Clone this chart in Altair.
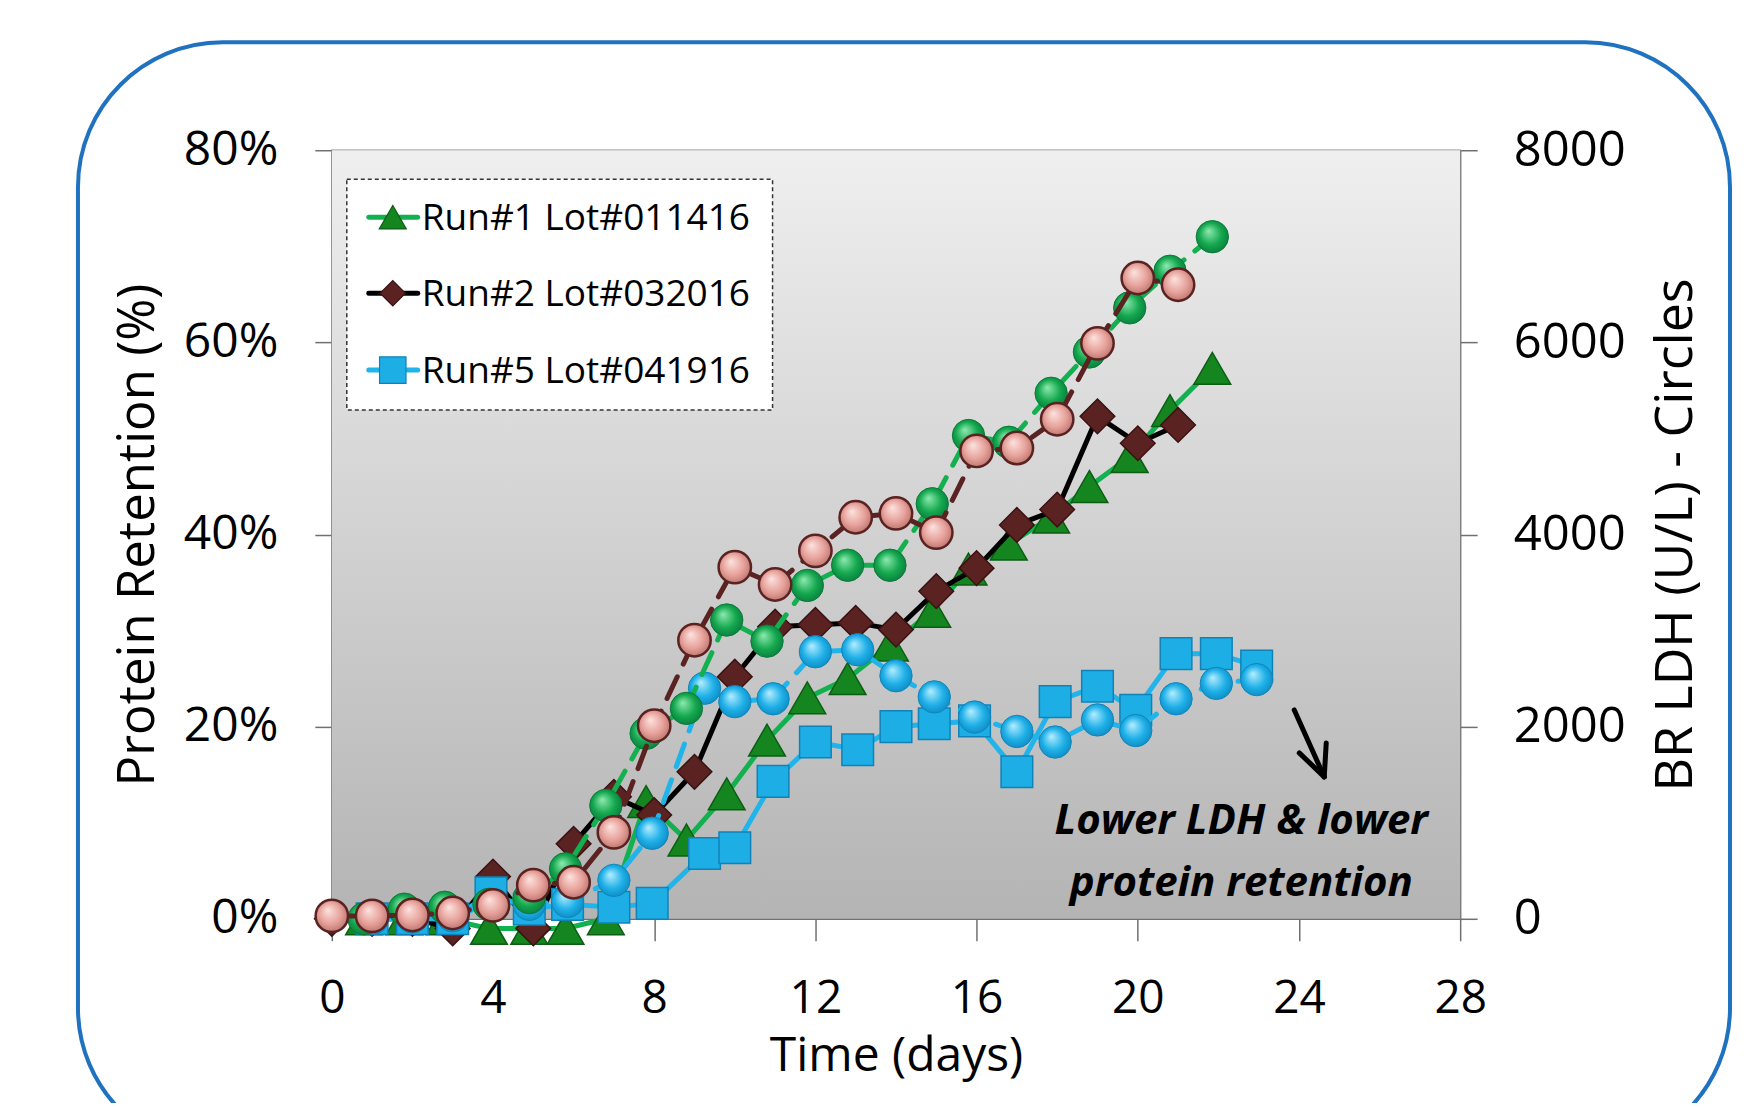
import altair as alt
import pandas as pd

FONT = "Open Sans"
W, H = 1129, 769

# ---------------- data ----------------
X_TICKS = [0, 4, 8, 12, 16, 20, 24, 28]
Y_LEFT_TICKS = [0, 20, 40, 60, 80]
Y_RIGHT_TICKS = [0, 2000, 4000, 6000, 8000]

R1_DAYS = [0.8, 1.8, 2.8, 3.9, 4.9, 5.8, 6.8, 7.8, 8.8, 9.8, 10.8, 11.8,
           12.8, 13.85, 14.9, 15.8, 16.8, 17.85, 18.8, 19.8, 20.8, 21.85]
R1_PROT = [0, 0, 0, -1, -1, -1, 0, 12.2, 8.2, 13, 18.6, 23, 25, 28.5, 32,
           36.4, 39, 41.8, 45, 48.1, 52.9, 57.3]
R1_LDH = [0, 100, 120, 150, 220, 520, 1180, 1930, 2190, 3110, 2890, 3470,
          3680, 3680, 4320, 5030, 4960, 5470, 5900, 6360, 6740, 7100]

R2_DAYS = [0, 1, 2, 3, 4, 5, 6, 7, 8, 9, 10, 11, 12, 13, 14, 15, 16, 17,
           18, 19, 20, 21]
R2_PROT = [0, 0, 0, -1, 4.4, -1, 7.8, 12.7, 10.8, 15.3, 25.2, 30.4, 30.6,
           30.8, 30.1, 34.1, 36.5, 41, 42.6, 52.3, 49.5, 51.4]
R2_LDH = [30, 30, 40, 60, 140, 350, 380, 900, 2010, 2900, 3660, 3480, 3830,
          4180, 4220, 4020, 4870, 4900, 5200, 5990, 6670, 6600]

R5_DAYS = [1, 2, 3, 3.95, 4.9, 5.85, 7, 7.95, 9.25, 10, 10.95, 12, 13.05,
           14, 14.95, 15.95, 17, 17.95, 19, 19.95, 20.95, 21.95, 22.95]
R5_PROT = [0, 0, 0, 2.7, 1, 1.5, 1.2, 1.6, 6.8, 7.4, 14.3, 18.4, 17.6, 20,
           20.3, 20.6, 15.3, 22.6, 24.2, 21.7, 27.6, 27.6, 26.3]
R5_LDH = [0, 20, 30, 150, 150, 180, 400, 890, 2400, 2260, 2290, 2780, 2800,
          2530, 2310, 2100, 1950, 1840, 2070, 1960, 2290, 2450, 2490]

LEGEND_LABELS = ["Run#1 Lot#011416", "Run#2 Lot#032016", "Run#5 Lot#041916"]
ANNOT_LINES = ["Lower LDH & lower", "protein retention"]

# ---------------- styles ----------------
GREEN_LINE = "#12B04E"
GREEN_TRI = "#15861F"
BROWN = "#5B2222"
CYAN_LINE = "#20B4EA"
CYAN_FILL = "#1DAEE6"
CYAN_EDGE = "#1182B8"
DASH = [24, 14]


def sphere(light, base, dark):
    return alt.RadialGradient(
        gradient="radial", x1=0.38, y1=0.32, r1=0.0, x2=0.5, y2=0.5, r2=0.62,
        stops=[alt.GradientStop(offset=0, color=light),
               alt.GradientStop(offset=0.55, color=base),
               alt.GradientStop(offset=1, color=dark)])


PINK_SPH = sphere("#FDE3DF", "#E6A099", "#A8645E")
GREEN_SPH = sphere("#8FEAB0", "#14A84E", "#08703A")
CYAN_SPH = sphere("#B5EEFF", "#1FB0E8", "#0A7FB6")

x_enc = alt.X(
    "day:Q",
    scale=alt.Scale(domain=[0, 28], nice=False),
    axis=alt.Axis(values=X_TICKS, title="Time (days)", labelFontSize=46,
                  tickSize=22, labelPadding=36, labelFlush=False,
                  titleFontSize=48, titleX=W / 2, titleY=138,
                  titleBaseline="middle", titleAlign="center"),
)

y_left = alt.Y(
    "val:Q",
    scale=alt.Scale(domain=[0, 80], nice=False),
    axis=alt.Axis(values=Y_LEFT_TICKS, labelExpr="datum.value + '%'",
                  title="Protein Retention (%)", labelFontSize=48,
                  tickSize=17, labelPadding=37, titleFontSize=51,
                  titleX=-193, titleY=H / 2, titleBaseline="middle",
                  titleAlign="center", titleAngle=270),
)

y_right = alt.Y(
    "val:Q",
    scale=alt.Scale(domain=[0, 8000], nice=False),
    axis=alt.Axis(orient="right", values=Y_RIGHT_TICKS, format="d",
                  title="BR LDH (U/L) - Circles", labelFontSize=49,
                  tickSize=17, labelPadding=36, titleFontSize=52,
                  titleX=215, titleY=H / 2, titleBaseline="middle",
                  titleAlign="center", titleAngle=270),
)


def series(days, vals, y, line_color, dashed, shape, fill, stroke, size,
           stroke_w=1.5):
    df = pd.DataFrame({"day": days, "val": vals})
    base = alt.Chart(df).encode(x=x_enc, y=y)
    line_kw = dict(color=line_color, strokeWidth=5)
    if dashed:
        line_kw["strokeDash"] = DASH
        line_kw["strokeCap"] = "round"
    line = base.mark_line(**line_kw)
    pts = base.mark_point(shape=shape, filled=True, fill=fill, stroke=stroke,
                          strokeWidth=stroke_w, size=size, opacity=1)
    return [line, pts]


bg = alt.Chart(pd.DataFrame({"a": [0]})).mark_rect(
    color=alt.LinearGradient(
        gradient="linear",
        stops=[alt.GradientStop(offset=0, color="#EFEFEF"),
               alt.GradientStop(offset=1, color="#B4B4B4")],
        x1=0, x2=0, y1=0, y2=1,
    )
).encode(x=alt.value(0), x2=alt.value(W), y=alt.value(0), y2=alt.value(H))

left = alt.layer(
    bg,
    *series(R1_DAYS, R1_PROT, y_left, GREEN_LINE, False, "triangle-up",
            GREEN_TRI, "#0B5E14", 1350),
    *series(R2_DAYS, R2_PROT, y_left, "black", False, "diamond",
            BROWN, "#3A1212", 1200),
    *series(R5_DAYS, R5_PROT, y_left, CYAN_LINE, False, "square",
            CYAN_FILL, CYAN_EDGE, 1000),
)

right = alt.layer(
    *series(R5_DAYS, R5_LDH, y_right, CYAN_LINE, True, "circle",
            CYAN_SPH, "#0E86BC", 1050, 1),
    *series(R1_DAYS, R1_LDH, y_right, GREEN_LINE, True, "circle",
            GREEN_SPH, "#0A7A36", 1050, 1),
    *series(R2_DAYS, R2_LDH, y_right, BROWN, True, "circle",
            PINK_SPH, BROWN, 1050, 2.5),
)

one = pd.DataFrame({"a": [0]})

# legend box
legend_layers = [
    alt.Chart(one).mark_rect(fill="white", stroke="#333333", strokeWidth=1.5,
                             strokeDash=[4, 3]).encode(
        x=alt.value(15), x2=alt.value(441), y=alt.value(29), y2=alt.value(260))
]
leg_style = [
    (GREEN_LINE, "triangle-up", GREEN_TRI, "#0B5E14", 730),
    ("black", "diamond", BROWN, "#3A1212", 640),
    (CYAN_LINE, "square", CYAN_FILL, CYAN_EDGE, 700),
]
leg_rows = [67, 143, 220]
for lab, (lc, shp, fc, sc, sz), ry in zip(LEGEND_LABELS, leg_style, leg_rows):
    legend_layers.append(
        alt.Chart(one).mark_rule(color=lc, strokeWidth=5, strokeCap="round")
        .encode(x=alt.value(37), x2=alt.value(86), y=alt.value(ry)))
    legend_layers.append(
        alt.Chart(one).mark_point(shape=shp, filled=True, fill=fc, stroke=sc,
                                  strokeWidth=1.2, size=sz, opacity=1)
        .encode(x=alt.value(61), y=alt.value(ry)))
    legend_layers.append(
        alt.Chart(one).mark_text(align="left", baseline="middle", font=FONT,
                                 fontSize=37, color="black")
        .encode(x=alt.value(90), y=alt.value(ry + 2), text=alt.value(lab)))

annot = alt.Chart(one).mark_text(
    text=ANNOT_LINES, align="center", baseline="middle", font=FONT,
    fontSize=42, fontWeight="bold", fontStyle="italic", lineHeight=62,
    color="black",
).encode(x=alt.value(910), y=alt.value(671))

arrow = [
    alt.Chart(one).mark_rule(color="black", strokeWidth=5, strokeCap="round")
    .encode(x=alt.value(963), y=alt.value(560), x2=alt.value(993),
            y2=alt.value(627)),
    alt.Chart(one).mark_rule(color="black", strokeWidth=5, strokeCap="round")
    .encode(x=alt.value(968), y=alt.value(603), x2=alt.value(993),
            y2=alt.value(627)),
    alt.Chart(one).mark_rule(color="black", strokeWidth=5, strokeCap="round")
    .encode(x=alt.value(995), y=alt.value(593), x2=alt.value(993),
            y2=alt.value(627)),
]

frame = alt.Chart(one).mark_rect(
    fillOpacity=0, stroke="#1F72C0", strokeWidth=4, cornerRadius=145
).encode(x=alt.value(-254), x2=alt.value(1399), y=alt.value(-108),
         y2=alt.value(1003))

deco = alt.layer(*legend_layers, annot, *arrow, frame)

chart = (
    alt.layer(left, right, deco)
    .resolve_scale(y="independent")
    .properties(
        width=W, height=H,
        autosize=alt.AutoSizeParams(type="none"),
        padding={"left": 324, "top": 142, "right": 278, "bottom": 184},
        background="white",
    )
    .configure_view(stroke="#8A8A8A", strokeWidth=1.5)
    .configure_axis(labelFont=FONT, titleFont=FONT, labelColor="black",
                    titleColor="black", titleFontWeight="normal",
                    domainColor="#707070", tickColor="#707070",
                    domainWidth=1.5, tickWidth=1.5, grid=False)
)

chart.save("out.html", embed_options={"renderer": "svg", "actions": False})
